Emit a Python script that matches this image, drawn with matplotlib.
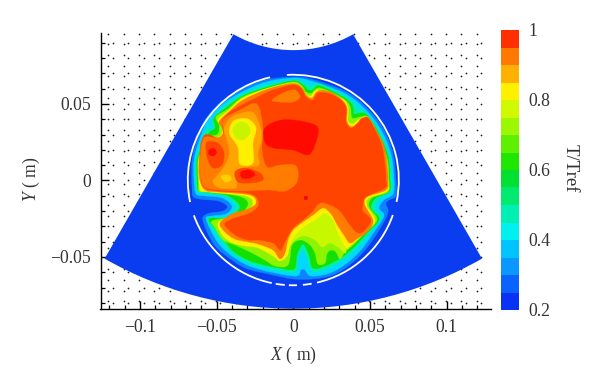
import numpy as np
import matplotlib
matplotlib.use('Agg')
import matplotlib.pyplot as plt
from matplotlib.colors import ListedColormap, BoundaryNorm
from matplotlib.patches import Arc, PathPatch, Wedge
from matplotlib.path import Path

plt.rcParams['font.family'] = ['Liberation Serif', 'DejaVu Serif']
plt.rcParams['mathtext.fontset'] = 'custom'
plt.rcParams['mathtext.it'] = 'Liberation Serif:italic'
plt.rcParams['mathtext.rm'] = 'Liberation Serif'

# annular sector of the domain, metres and degrees
sector_apex = (0.0, 0.1637)
sector_outer = 0.2475
sector_inner = 0.0785
sector_angles = (-119.8, -60.2)

# all contour coordinates in mm
t25_x = [-0.2, 11.5, 33.7, 47.4, 58.5, 65, 67, 67, 62.4, 60.4, 61.7, 55.2, 46.7, 37.6, 25.9, 12.8, -0.2, -16.5, -31.5, -44.5, -52.4, -58.9, -56.3, -45.8, -43.2, -49.1, -64, -66, -66, -62.8, -57.6, -47.8, -34.8, -18.5]
t25_y = [67.7, 66.4, 58.5, 48.1, 34.3, 18, 0.3, -10.1, -12.8, -15.4, -21.3, -33.7, -45.5, -54.6, -61.8, -64.4, -64.4, -61.1, -57.2, -48.7, -40.9, -26.5, -21.9, -19.9, -16.7, -13.4, -11.4, -4.9, 13.4, 26.5, 39.6, 50.7, 59.2, 65.7]

t35_x = [-0.2, 11.5, 33, 46.7, 57.2, 63.7, 65.7, 65, 59.1, 55.9, 59.1, 52.6, 44.1, 35, 23.9, 11.5, 7.6, 5, 1.8, -15.2, -30.2, -42.6, -50.4, -56.9, -53, -43.9, -40, -46.5, -57.6, -63.4, -64.7, -64.7, -61.5, -56.3, -46.5, -33.4, -17.8]
t35_y = [67, 65.1, 57.2, 46.8, 33, 17.3, 0.3, -8.8, -12.8, -18, -23.2, -33.7, -45.5, -54, -60.5, -62.5, -58.5, -58.5, -62.5, -59.8, -55.3, -47.4, -38.9, -25.2, -23.2, -21.9, -16.7, -11.4, -10.1, -8.8, 0.3, 13.4, 25.8, 38.3, 49.4, 57.9, 64.4]

t45_x = [-0.2, 7, 11.5, 17.4, 32.4, 39.6, 42.2, 47.4, 55.9, 62.4, 64.4, 63.7, 56.5, 53.3, 57.2, 50, 41.5, 32.4, 21.3, 12.2, 8.9, 6.3, 3.1, 1.8, -8.7, -18.5, -29.5, -41.3, -49.1, -56.3, -44.5, -37.4, -43.9, -57.6, -62.8, -64, -63.4, -60.2, -56.9, -52.4, -52.4, -44.5, -32.8, -16.5]
t45_y = [65.7, 63.8, 61.8, 63.1, 55.9, 50.7, 46.8, 44.1, 32.4, 16.7, 0.3, -6.9, -11.4, -18, -24.5, -34.3, -44.1, -52, -57.9, -59.2, -50.7, -45.5, -50.7, -59.8, -59.2, -57.2, -54, -46.1, -37, -25.2, -23.9, -17.3, -10.8, -8.2, -6.9, 1.6, 13.4, 24.5, 33, 34.3, 39.6, 48.7, 56.6, 62.5]

t55_x = [-0.2, 6.3, 9.6, 12.8, 17.4, 32.4, 38.3, 39.6, 43.5, 48, 55.2, 61.7, 63, 62.4, 53.9, 50.6, 55.9, 48.7, 40.2, 31.8, 20.7, 12.8, 10.2, 6.3, 2.4, 0.5, -8.7, -18.5, -29.5, -40, -47.1, -55, -42.6, -34.8, -42.6, -57.6, -62.1, -62.8, -62.8, -58.9, -55, -51, -51.7, -43.9, -32.8, -16.5]
t55_y = [65.1, 62.5, 59.2, 59.2, 61.8, 54.6, 49.4, 43.5, 44.1, 42.8, 31.7, 16, 0.3, -7.5, -11.4, -18, -25.2, -33.7, -42.8, -50, -55.9, -57.2, -48.7, -41.5, -48.7, -57.9, -57.2, -55.3, -52, -45.5, -35.6, -25.2, -24.5, -17.3, -10.1, -7.5, -6.2, 1.6, 13.4, 23.2, 31.1, 34.3, 40.9, 47.4, 55.3, 61.1]

t65_x = [-0.2, 5.7, 8.3, 12.2, 17.4, 31.8, 37, 38.3, 43.5, 48.7, 54.6, 61.1, 62.4, 61.7, 51.3, 49.4, 54.6, 46.1, 38.3, 33.7, 30.4, 27.8, 24.6, 21.9, 20.7, 16.1, 14.1, 10.9, 5, -0.8, -3.5, -11.9, -18.5, -26.9, -38, -45.8, -51, -53, -40, -33.4, -29.5, -36, -57.6, -61.5, -62.1, -62.1, -58.9, -54.3, -49.1, -48.4, -50.4, -42.6, -32.8, -16.5]
t65_y = [64.4, 61.8, 57.9, 57.2, 60.5, 54, 48.7, 40.9, 41.5, 41.5, 31.1, 14.7, 0.3, -7.5, -11.4, -17.3, -25.8, -35, -42.8, -46.8, -51.3, -46.8, -45.5, -48, -54, -54.6, -47.4, -42.2, -38.9, -42.2, -55.3, -55.9, -52, -47.4, -42.2, -38.9, -31.1, -26.5, -23.9, -21.3, -14.7, -10.1, -7.5, -6.9, 1.6, 13.4, 21.9, 28.4, 30.4, 36.3, 41.5, 46.8, 54.6, 60.5]

# warmer part of the lobes at the bottom
t72_x = [-4.8, -0.8, 6.3, 14.1, 18.7, 23.9, 29.1, 34.4, 30.4, 20.7, 7.6, -2.2]
t72_y = [-49.4, -40.9, -36.3, -38.9, -43.5, -40.9, -43.5, -46.8, -29.1, -19.3, -27.1, -35.6]

t75_x = [-0.2, 5, 7.6, 11.5, 16.1, 31.8, 35.7, 35.7, 38.9, 43.5, 48.7, 54.6, 60.4, 61.7, 61.1, 49.4, 48, 53.3, 44.8, 37, 34.4, 29.1, 25.9, 20.7, 14.1, 7.6, 1.1, -2.2, -4.1, -8.7, -13.2, -23, -31.5, -39.3, -45.8, -49.1, -40, -30.2, -26.3, -31.5, -57.6, -60.8, -61.5, -61.5, -58.2, -53.7, -47.8, -45.8, -49.1, -41.9, -32.8, -16.5]
t75_y = [63.8, 61.1, 56.6, 55.3, 59.2, 53.3, 47.4, 38.9, 37, 40.2, 40.9, 30.4, 14.1, 0.3, -6.9, -11.4, -16.7, -26.5, -35.6, -42.8, -44.1, -34.3, -25.8, -21.3, -25.8, -29.8, -35.6, -42.8, -49.4, -52.6, -49.4, -44.1, -42.8, -40.9, -36.3, -27.8, -23.2, -19.9, -14.7, -10.1, -7.2, -6.2, 1.6, 13.4, 21.9, 27.1, 29.1, 34.3, 39.6, 46.1, 54, 60.2]

t85_x = [-0.2, 5.7, 8.3, 12.2, 16.1, 23.9, 31.8, 35, 35, 38.3, 44.1, 48.7, 53.9, 59.1, 61.1, 61.7, 60.4, 48, 46.7, 52, 48, 42.2, 37, 33, 29.1, 24.6, 19.4, 12.8, 6.3, -0.2, -3.5, -5.4, -8.7, -13.2, -23, -29.5, -38, -44.5, -47.8, -40, -29.5, -24.3, -28.2, -49.1, -57.6, -61.2, -61.2, -58.2, -53, -47.8, -45.2, -48.4, -41.3, -32.8, -16.5]
t85_y = [63.4, 60.5, 55.9, 54, 58.5, 57.9, 52.6, 47.4, 38.9, 35, 39.6, 41.2, 33, 22.6, 10.1, 0.3, -6.2, -10.8, -16, -26.5, -33.7, -37.6, -40.9, -35.6, -29.8, -21.9, -18, -22.6, -27.1, -32.4, -38.9, -47.4, -51.3, -45.5, -41.5, -40.2, -38.3, -33.7, -27.8, -21.9, -18.6, -14.7, -9.5, -7.5, -6.2, 1.6, 13.4, 23.2, 26.5, 28.4, 33, 38.3, 45.5, 52.6, 59.8]

t90_x = [-0.2, 5, 8.3, 12.8, 16.1, 23.9, 31.1, 34.4, 34.4, 37.6, 42.2, 44.1, 48.7, 53.3, 57.8, 59.8, 60.4, 59.8, 47.4, 45.4, 45.4, 50.6, 46.7, 42.2, 37, 30.4, 23.9, 17.4, 11.5, 6.3, -0.2, -3.5, -6.7, -8.7, -13.2, -23, -29.5, -36.7, -43.2, -44.5, -38, -28.2, -23, -23.7, -30.2, -49.1, -57.6, -60.2, -60.8, -57.6, -49.1, -45.8, -46.5, -45.8, -41.3, -33.4, -23, -16.5, -8.7]
t90_y = [62.5, 60.5, 54.6, 52.6, 57.2, 56.6, 52.6, 47.4, 38.3, 34.3, 37.6, 40.2, 40.9, 33, 22.6, 10.1, 0.3, -4.9, -10.8, -16, -19.9, -25.8, -32.4, -34.3, -29.1, -19.9, -16, -14.7, -21.3, -25.8, -31.1, -36.3, -42.8, -45.5, -40.9, -38.9, -38.9, -36.3, -31.1, -27.8, -24.5, -21.3, -16.7, -11.4, -8.2, -6.9, -4.9, 1.6, 19.9, 29.8, 27.8, 29.8, 37.6, 40.2, 44.8, 49.4, 54.6, 57.9, 60.5]

# patches on top of the main body, colder or hotter than it
left_x = [-45.8, -34.8, -23.7, -19.8, -20.4, -17.1, -8.7, 1.8, 2.4, -5.4, -16.5, -33.4, -49.1, -57.6, -60.2, -60.8, -60.2, -57.6, -49.1, -45.2]
left_y = [39.6, 46.1, 50, 34.3, 19.9, 8.8, 10.1, 9.5, -1, -6.9, -6.2, -6.9, -6.2, -4.3, 1.6, 11.4, 21.3, 28.4, 27.8, 31.7]
top_x = [-13.9, -5.4, 1.1, 4.4, -0.2, -8.7]
top_y = [52.6, 57.9, 59.2, 54.6, 51.3, 51.3]
amber_x = [-43.2, -38, -26.9, -22.4, -20.4, -23, -22.4, -29.5, -37.4, -36.7, -38, -47.8, -52.4, -46.5, -41.9, -43.2, -45.2]
amber_y = [38.3, 42.8, 44.8, 37.6, 28.4, 18, 10.1, 8.8, 5.6, -0.3, -4.9, -4.9, -0.3, 6.9, 16.7, 26.5, 33]
yellow_x = [-41.3, -38, -29.5, -24.3, -26.3, -26.3, -34.8, -36, -41.3]
yellow_y = [35, 39.6, 40.2, 34.3, 24.5, 11.4, 10.8, 21.3, 29.8]
yellow2_x = [-47.1, -41.9, -40.6, -44.5]
yellow2_y = [2.9, 3.6, 0.3, -1]
lime_x = [-39.3, -34.8, -29.5, -28.2, -32.8, -38]
lime_y = [34.3, 38.3, 36.3, 31.1, 26.5, 28.4]
blob_a_x = [-56.3, -49.1, -45.2, -46.5, -52.4, -55.6, -56.9]
blob_a_y = [25.2, 24.5, 18, 10.1, 8.2, 13.4, 19.9]
blob_b_x = [-38, -31.5, -21.7, -19.8, -26.9, -36]
blob_b_y = [5.6, 8.2, 4.9, 0.3, -1.6, -1]
red_x = [-18.5, -7.4, 7.6, 16.1, 14.1, 9.6, -0.2, -13.2, -18.5]
red_y = [34.3, 39.6, 38.3, 34.3, 23.2, 16.7, 19.9, 21.3, 25.2]
red_a_x = [-55, -52, -50, -52, -55]
red_a_y = [20, 21, 18.5, 16, 17]
red_b_x = [-34.1, -28.7, -25, -28.2, -33.4]
red_b_y = [5.6, 6.9, 4.3, 1.6, 1.6]
red_c_x = [7.2, 9.2, 9.2, 7.2]
red_c_y = [-10.4, -10.4, -12.4, -12.4]

# white cylinder wall, degrees
wall_start = [102.7, 199.6, 260.4, 267.6, 275.2, 283, 348]
wall_end = [192.1, 258.2, 265.4, 272, 280, 340.6, 93.5]
wall_radius = 68.8

# tiny vector marks left in the empty part of the domain
dot_cols = [-120.5, -110.5, -100.5, -90.5, -80.5, -70.5, -60.5, -50.5, -40.5, -30.5, -20.5, -10.5, -0.5,
            9.5, 19.5, 29.5, 39.5, 49.5, 59.5, 69.5, 79.5, 89.5, 99.5, 109.5, 119.5]
dot_rows = [96, 89, 82, 75, 68, 61, 54, 47, 40, 33, 26, 19, 12, 5, -2, -9, -16, -23, -30, -37, -44, -51, -58, -65, -72, -79]
dot_rows2 = [90, 80, 70, 60, 50, 40, 30, 20, 10, 0, -10, -20, -30, -40, -50, -60, -70, -80]

cb_levels = [0.2, 0.25, 0.3, 0.35, 0.4, 0.45, 0.5, 0.55, 0.6, 0.65, 0.7, 0.75, 0.8, 0.85, 0.9, 0.95, 1.0]
cb_colors = ['#0a32f4', '#0a62ff', '#0a98ff', '#00c4ff', '#00f0f0', '#00f0b4', '#00ea70', '#00e030',
             '#1ee600', '#5ef000', '#9cf800', '#d0f800', '#fff000', '#ffb000', '#ff7800', '#ff3000']
cb_ticks = [0.2, 0.4, 0.6, 0.8, 1.0]
cb_labels = ['0.2', '0.4', '0.6', '0.8', '1']

x_ticks = [-0.1, -0.05, 0, 0.05, 0.1]
x_labels = ['\u22120.1', '\u22120.05', '0', '0.05', '0.1']
y_ticks = [-0.05, 0, 0.05]
y_labels = ['\u22120.05', '0', '0.05']
text_color = '#333333'


def blob(ax, xs, ys, color, z):
    # closed Catmull-Rom outline through the read points
    pts = np.column_stack([xs, ys]) / 1000.0
    n = len(pts)
    verts = [pts[0]]
    codes = [Path.MOVETO]
    for k in range(n):
        p0, p1, p2, p3 = pts[k - 1], pts[k], pts[(k + 1) % n], pts[(k + 2) % n]
        verts += [p1 + (p2 - p0) / 6.0, p2 - (p3 - p1) / 6.0, p2]
        codes += [Path.CURVE4, Path.CURVE4, Path.CURVE4]
    ax.add_patch(PathPatch(Path(verts, codes), facecolor=color, edgecolor=color, lw=0.2, zorder=z))


fig = plt.figure(figsize=(6, 3.86), dpi=100)
ax = fig.add_axes([100.5 / 600, 1 - 309.3 / 386, 390.2 / 600, 276.3 / 386])
ax.set_xlim(-0.1257, 0.1287)
ax.set_ylim(-0.0842, 0.0964)

gx, gy = np.meshgrid(dot_cols, dot_rows)
ax.scatter(gx.ravel() / 1000.0, gy.ravel() / 1000.0, s=1.6, color='#222222', lw=0, zorder=1)
gx, gy = np.meshgrid(dot_cols, dot_rows2)
ax.scatter(gx.ravel() / 1000.0 + 0.003, gy.ravel() / 1000.0, s=1.6, color='#222222', lw=0, zorder=1)

ax.add_patch(Wedge(sector_apex, sector_outer, sector_angles[0], sector_angles[1],
                   width=sector_outer - sector_inner, facecolor='#0a3cf0', edgecolor='none', zorder=2))

layers = [(t25_x, t25_y, '#0a84ff'), (t35_x, t35_y, '#00d8ff'), (t45_x, t45_y, '#00f0a8'),
          (t55_x, t55_y, '#14e000'), (t65_x, t65_y, '#8cf400'), (t72_x, t72_y, '#c8f800'), (t75_x, t75_y, '#fff000'),
          (t85_x, t85_y, '#ff7c00'), (t90_x, t90_y, '#ff4400'),
          (left_x, left_y, '#ff7c00'), (top_x, top_y, '#ff7c00'), (amber_x, amber_y, '#ffa400'),
          (yellow_x, yellow_y, '#fff000'), (yellow2_x, yellow2_y, '#ffd000'), (lime_x, lime_y, '#c8f400'),
          (blob_a_x, blob_a_y, '#ff4400'), (blob_b_x, blob_b_y, '#ff4400'), (red_x, red_y, '#ff0a00'),
          (red_a_x, red_a_y, '#ff0a00'), (red_b_x, red_b_y, '#ff0a00'), (red_c_x, red_c_y, '#e81000')]
for i, (lx, ly, col) in enumerate(layers):
    blob(ax, lx, ly, col, 3 + i * 0.1)

for a, b in zip(wall_start, wall_end):
    ax.add_patch(Arc((0.0, 0.0003), 2 * wall_radius / 1000.0, 2 * wall_radius / 1000.0, theta1=a, theta2=b,
                     color='white', lw=1.3, zorder=6))

ax.spines['top'].set_visible(False)
ax.spines['right'].set_visible(False)
ax.spines['left'].set_linewidth(1.0)
ax.spines['bottom'].set_linewidth(1.0)
ax.set_xticks(x_ticks)
ax.set_xticklabels(x_labels)
ax.set_yticks(y_ticks)
ax.set_yticklabels(y_labels)
ax.set_xticks([v / 100.0 for v in [-12, -11, -9, -8, -7, -6, -4, -3, -2, -1, 1, 2, 3, 4, 6, 7, 8, 9, 11, 12]], minor=True)
ax.set_yticks([v / 100.0 for v in [-8, -7, -6, -4, -3, -2, -1, 1, 2, 3, 4, 6, 7, 8, 9]], minor=True)
ax.tick_params(which='major', direction='in', length=5.5, width=1.0, labelsize=12.7, labelcolor=text_color, pad=7)
ax.tick_params(which='minor', direction='in', length=3.2, width=0.9)
fig.text(293 / 600, 1 - 355 / 386, r'$\mathit{X}$ ( m)', fontsize=12.7, color=text_color, ha='center', va='center')
fig.text(31 / 600, 1 - 179 / 386, r'$\mathit{Y}$ ( m)', fontsize=12.7, color=text_color, ha='center', va='center', rotation=90)

cax = fig.add_axes([501 / 600, 1 - 310 / 386, 18 / 600, 280 / 386])
cmap = ListedColormap(cb_colors)
norm = BoundaryNorm(cb_levels, cmap.N)
cb_mid = [(cb_levels[k] + cb_levels[k + 1]) / 2.0 for k in range(len(cb_colors))]
cax.pcolormesh([0, 1], cb_levels, np.array(cb_mid).reshape(-1, 1), cmap=cmap, norm=norm)
cax.set_ylim(0.2, 1.0)
cax.set_xticks([])
cax.yaxis.tick_right()
cax.set_yticks(cb_ticks)
cax.set_yticklabels(cb_labels)
cax.tick_params(length=0, labelsize=12.7, labelcolor=text_color, pad=6.5)
for s in cax.spines.values():
    s.set_visible(False)
fig.text(570 / 600, 1 - 168 / 386, 'T/Tref', fontsize=13.5, color=text_color, ha='center', va='center', rotation=270)

fig.savefig('out.png', dpi=100)
